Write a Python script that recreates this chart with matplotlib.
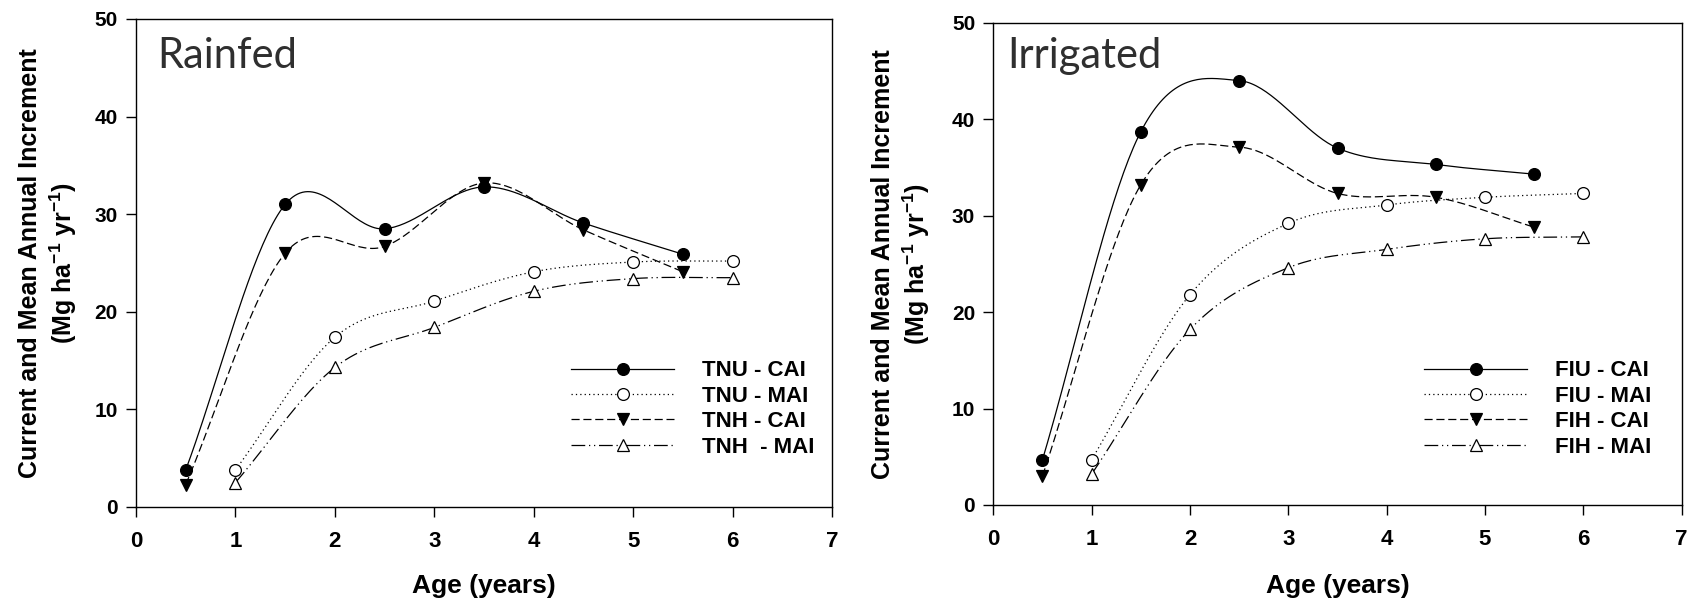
import numpy as np
import matplotlib
matplotlib.use("Agg")
import matplotlib.pyplot as plt
from matplotlib.lines import Line2D

plt.rcParams['font.family'] = ['Liberation Sans', 'DejaVu Sans']
plt.rcParams['font.weight'] = 'bold'
plt.rcParams['mathtext.fontset'] = 'custom'
plt.rcParams['mathtext.rm'] = 'Liberation Sans:bold'
plt.rcParams['mathtext.bf'] = 'Liberation Sans:bold'
plt.rcParams['mathtext.default'] = 'rm'

# ---------------- data ----------------
cai_age = [0.5, 1.5, 2.5, 3.5, 4.5, 5.5]
mai_age = [1, 2, 3, 4, 5, 6]

tnu_cai = [3.8, 31.0, 28.5, 32.8, 29.1, 25.9]
tnu_mai = [3.8, 17.4, 21.1, 24.1, 25.1, 25.2]
tnh_cai = [2.3, 26.0, 26.7, 33.2, 28.4, 24.1]
tnh_mai = [2.5, 14.3, 18.4, 22.1, 23.4, 23.5]

fiu_cai = [4.7, 38.7, 44.0, 37.0, 35.3, 34.3]
fiu_mai = [4.7, 21.8, 29.2, 31.1, 31.9, 32.3]
fih_cai = [3.0, 33.2, 37.1, 32.3, 31.9, 28.8]
fih_mai = [3.2, 18.2, 24.6, 26.5, 27.6, 27.8]

left_labels = ["TNU - CAI", "TNU - MAI", "TNH - CAI", "TNH  - MAI"]
right_labels = ["FIU - CAI", "FIU - MAI", "FIH - CAI", "FIH - MAI"]
panel_titles = ["Rainfed", "Irrigated"]
x_ticks = [0, 1, 2, 3, 4, 5, 6, 7]
y_ticks = [0, 10, 20, 30, 40, 50]


def smooth_curve(x, y, n=40):
    """Cardinal (Catmull-Rom) spline through the data points."""
    x = np.asarray(x, float)
    y = np.asarray(y, float)
    k = len(x)
    m = np.empty(k)
    m[0] = (y[1] - y[0]) / (x[1] - x[0])
    m[-1] = (y[-1] - y[-2]) / (x[-1] - x[-2])
    for i in range(1, k - 1):
        m[i] = (y[i + 1] - y[i - 1]) / (x[i + 1] - x[i - 1])
    xs_all, ys_all = [], []
    for i in range(k - 1):
        h = x[i + 1] - x[i]
        t = np.linspace(0, 1, n, endpoint=(i == k - 2))
        h00 = 2 * t**3 - 3 * t**2 + 1
        h10 = t**3 - 2 * t**2 + t
        h01 = -2 * t**3 + 3 * t**2
        h11 = t**3 - t**2
        xs_all.append(x[i] + t * h)
        ys_all.append(h00 * y[i] + h10 * h * m[i] + h01 * y[i + 1] + h11 * h * m[i + 1])
    return np.concatenate(xs_all), np.concatenate(ys_all)


styles = [
    dict(ls='-', marker='o', mfc='black', dashes=None),
    dict(ls=':', marker='o', mfc='white', dashes=(1, 2.5)),
    dict(ls='--', marker='v', mfc='black', dashes=(6.5, 3)),
    dict(ls='-.', marker='^', mfc='white', dashes=(11, 3, 1, 3, 1, 3)),
]
msizes = [8.5, 8.5, 9, 9]

W, H = 1693, 603
fig = plt.figure(figsize=(W / 100, H / 100), dpi=100)


def fx(px):
    return px / W


def fy(py):
    return 1 - py / H


axes_px = [(136, 19, 832, 507), (993.3, 22.7, 1681.7, 505)]
series = [
    [(cai_age, tnu_cai), (mai_age, tnu_mai), (cai_age, tnh_cai), (mai_age, tnh_mai)],
    [(cai_age, fiu_cai), (mai_age, fiu_mai), (cai_age, fih_cai), (mai_age, fih_mai)],
]
labels = [left_labels, right_labels]
legend_px = [(571, 409), (1424, 409)]
ylabel_x = [(30, 63), (883, 916)]
title_px = [(157, 68), (1007, 68)]

for p in range(2):
    l, t, r, btm = axes_px[p]
    ax = fig.add_axes([fx(l), fy(btm), fx(r - l), (btm - t) / H])
    handles = []
    for s, (xs_d, ys_d) in enumerate(series[p]):
        st = styles[s]
        xs, ys = smooth_curve(xs_d, ys_d)
        line, = ax.plot(xs, ys, color='black', lw=0.9, ls=st['ls'])
        if st['dashes'] is not None:
            line.set_dashes(st['dashes'])
        ax.plot(xs_d, ys_d, ls='none', marker=st['marker'], ms=msizes[s],
                mfc=st['mfc'], mec='black', mew=0.9, zorder=5)
        h = Line2D([0], [0], color='black', lw=0.9, ls=st['ls'],
                   marker=st['marker'], ms=msizes[s], mfc=st['mfc'],
                   mec='black', mew=0.9)
        if st['dashes'] is not None:
            h.set_dashes(st['dashes'])
        handles.append(h)
    ax.set_xlim(0, 7)
    ax.set_ylim(0, 50)
    ax.set_xticks(x_ticks)
    ax.set_yticks(y_ticks)
    ax.tick_params(axis='both', direction='out', length=7, width=1,
                   top=False, right=False)
    ax.tick_params(axis='x', labelsize=16, pad=10)
    ax.tick_params(axis='y', labelsize=15, pad=6)
    for lab in ax.get_xticklabels() + ax.get_yticklabels():
        lab.set_fontweight('bold')
    for sp in ax.spines.values():
        sp.set_linewidth(1.0)

    lx, ly = legend_px[p]
    fig.legend(handles, labels[p], loc='center left',
               bbox_to_anchor=(fx(lx), fy(ly)), frameon=False,
               borderpad=0, borderaxespad=0, numpoints=1,
               handlelength=4.65, handletextpad=1.25,
               labelspacing=0.2, prop=dict(size=16, weight='bold'))

    cx = (l + r) / 2
    fig.text(fx(cx), fy(586), "Age (years)", ha='center', va='center',
             fontsize=19, fontweight='bold')
    cy = (t + btm) / 2
    x1, x2 = ylabel_x[p]
    fig.text(fx(x1), fy(cy), "Current and Mean Annual Increment",
             rotation=90, ha='center', va='center', fontsize=18,
             fontweight='bold')
    fig.text(fx(x2), fy(cy), r"(Mg ha$^{-1}$ yr$^{-1}$)",
             rotation=90, ha='center', va='center', fontsize=18,
             fontweight='bold')
    tx, ty = title_px[p]
    fig.text(fx(tx), fy(ty), panel_titles[p], ha='left', va='baseline',
             fontsize=30, fontweight='normal', family='Lato',
             color='#2f2f2f')

fig.savefig("out.png", dpi=100)
